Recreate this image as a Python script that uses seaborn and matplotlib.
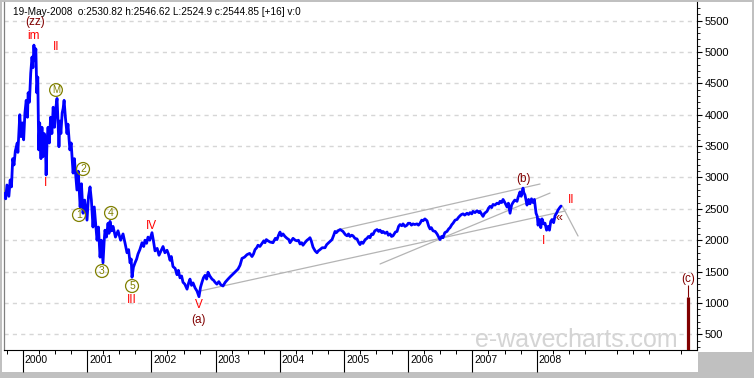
import matplotlib
matplotlib.use("Agg")
import matplotlib.pyplot as plt
import matplotlib.transforms as mtransforms
from matplotlib.patches import Rectangle
from matplotlib.ticker import MultipleLocator, FixedLocator
import numpy as np
import pandas as pd
import seaborn as sns

# ---------------- data (decimal year, index level) ----------------
dates = [
    1999.70, 1999.73, 1999.75, 1999.78, 1999.80, 1999.82, 1999.84, 1999.86, 1999.88, 1999.91,
    1999.92, 1999.94, 1999.95, 1999.97, 1999.99, 2000.01, 2000.03, 2000.05, 2000.07, 2000.08,
    2000.10, 2000.12, 2000.14, 2000.155, 2000.17, 2000.185, 2000.20, 2000.215, 2000.23, 2000.245,
    2000.26, 2000.28, 2000.295, 2000.31, 2000.33, 2000.35, 2000.36, 2000.375, 2000.39, 2000.41,
    2000.43, 2000.45, 2000.47, 2000.49, 2000.51, 2000.53, 2000.545, 2000.56, 2000.575, 2000.59,
    2000.61, 2000.625, 2000.64, 2000.66, 2000.685, 2000.70, 2000.73, 2000.75, 2000.78, 2000.80,
    2000.84, 2000.86, 2000.89, 2000.91, 2000.935, 2000.96, 2000.997, 2001.02, 2001.044, 2001.065,
    2001.09, 2001.11, 2001.153, 2001.175, 2001.20, 2001.22, 2001.246, 2001.265, 2001.277, 2001.30,
    2001.324, 2001.34, 2001.355, 2001.38, 2001.402, 2001.44, 2001.48, 2001.52, 2001.558, 2001.59,
    2001.62, 2001.645, 2001.667, 2001.685, 2001.698, 2001.72, 2001.745, 2001.77, 2001.791, 2001.82,
    2001.854, 2001.88, 2001.90, 2001.925, 2001.947, 2001.975, 2002.009, 2002.03, 2002.056, 2002.09,
    2002.118, 2002.15, 2002.181, 2002.21, 2002.243, 2002.265, 2002.29, 2002.31, 2002.336, 2002.37,
    2002.399, 2002.42, 2002.445, 2002.47, 2002.492, 2002.52, 2002.555, 2002.58, 2002.601, 2002.625,
    2002.648, 2002.68, 2002.71, 2002.741, 2002.765, 2002.788, 2002.81, 2002.835, 2002.86, 2002.882,
    2002.91, 2002.944, 2002.97, 2002.991, 2003.02, 2003.05, 2003.08, 2003.115, 2003.15, 2003.193,
    2003.23, 2003.271, 2003.31, 2003.349, 2003.38, 2003.411, 2003.45, 2003.489, 2003.53, 2003.567,
    2003.59, 2003.614, 2003.64, 2003.66, 2003.69, 2003.723, 2003.75, 2003.769, 2003.79, 2003.816,
    2003.85, 2003.894, 2003.93, 2003.956, 2003.98, 2004.003, 2004.025, 2004.05, 2004.08, 2004.112,
    2004.14, 2004.159, 2004.18, 2004.206, 2004.24, 2004.268, 2004.29, 2004.315, 2004.34, 2004.361,
    2004.39, 2004.424, 2004.45, 2004.47, 2004.49, 2004.517, 2004.55, 2004.579, 2004.60, 2004.626,
    2004.66, 2004.704, 2004.73, 2004.751, 2004.78, 2004.813, 2004.84, 2004.86, 2004.88, 2004.907,
    2004.94, 2004.984, 2005.02, 2005.047, 2005.07, 2005.093, 2005.12, 2005.14, 2005.17, 2005.202,
    2005.23, 2005.249, 2005.27, 2005.296, 2005.33, 2005.358, 2005.38, 2005.405, 2005.43, 2005.452,
    2005.48, 2005.514, 2005.54, 2005.561, 2005.59, 2005.607, 2005.64, 2005.67, 2005.69, 2005.717,
    2005.74, 2005.763, 2005.80, 2005.826, 2005.85, 2005.872, 2005.90, 2005.919, 2005.95, 2005.981,
    2006.00, 2006.028, 2006.05, 2006.075, 2006.10, 2006.137, 2006.16, 2006.184, 2006.21, 2006.231,
    2006.26, 2006.293, 2006.32, 2006.34, 2006.36, 2006.386, 2006.42, 2006.449, 2006.47, 2006.495,
    2006.52, 2006.542, 2006.57, 2006.604, 2006.63, 2006.651, 2006.68, 2006.698, 2006.73, 2006.76,
    2006.78, 2006.807, 2006.83, 2006.854, 2006.88, 2006.916, 2006.94, 2006.963, 2006.99, 2007.009,
    2007.04, 2007.072, 2007.10, 2007.118, 2007.14, 2007.165, 2007.19, 2007.227, 2007.25, 2007.274,
    2007.30, 2007.321, 2007.35, 2007.383, 2007.41, 2007.43, 2007.455, 2007.477, 2007.50, 2007.52,
    2007.539, 2007.56, 2007.586, 2007.61, 2007.632, 2007.66, 2007.695, 2007.71, 2007.741, 2007.76,
    2007.788, 2007.80, 2007.819, 2007.835, 2007.85, 2007.875, 2007.897, 2007.92, 2007.944, 2007.965,
    2007.991, 2008.01, 2008.022, 2008.045, 2008.065, 2008.084, 2008.11, 2008.131, 2008.155, 2008.178,
    2008.20, 2008.22, 2008.24, 2008.265, 2008.287, 2008.31, 2008.333, 2008.36, 2008.38,
]
prices = [
    2750, 2660, 2880, 2700, 2960, 2850, 3300, 3200, 3420, 3550,
    3400, 3800, 4000, 3650, 3870, 3600, 4030, 4230, 3960, 4350,
    4200, 4660, 4920, 4750, 5110, 4870, 5050, 4350, 4600, 3440,
    3870, 3300, 3800, 3330, 3700, 3480, 3040, 3600, 3800, 3550,
    3960, 3700, 4120, 3800, 4100, 4260, 3900, 3490, 3900, 3700,
    4030, 4100, 4230, 3960, 3700, 3850, 3440, 3550, 3070, 3300,
    2800, 3100, 2530, 2900, 2430, 2640, 2320, 2700, 2850, 2640,
    2210, 2530, 2000, 2210, 1730, 2000, 1640, 2000, 2160, 2050,
    2270, 2110, 2300, 2150, 2220, 2050, 2150, 2000, 2100, 1950,
    1800, 1850, 1640, 1700, 1410, 1570, 1640, 1700, 1780, 1850,
    1960, 1900, 2000, 1950, 2050, 2000, 2120, 2000, 1830, 1870,
    1760, 1830, 1900, 1800, 1840, 1780, 1680, 1740, 1580, 1550,
    1450, 1520, 1400, 1430, 1330, 1300, 1220, 1320, 1380, 1280,
    1320, 1240, 1190, 1100, 1250, 1330, 1400, 1440, 1380, 1490,
    1430, 1380, 1360, 1330, 1300, 1340, 1290, 1270, 1330, 1380,
    1420, 1460, 1500, 1540, 1600, 1710, 1730, 1770, 1790, 1740,
    1780, 1850, 1880, 1920, 1900, 1950, 1990, 1960, 2010, 1990,
    1970, 1960, 2030, 2010, 2080, 2130, 2070, 2100, 2060, 2030,
    2010, 1960, 1990, 2030, 2000, 1990, 2000, 1940, 1960, 1920,
    1960, 2000, 2020, 2040, 1990, 1890, 1830, 1800, 1830, 1850,
    1880, 1880, 1930, 1950, 1980, 2010, 2080, 2140, 2120, 2150,
    2170, 2140, 2090, 2070, 2100, 2060, 2080, 2070, 2030, 2020,
    1960, 1930, 1970, 1950, 2010, 2030, 2060, 2040, 2100, 2090,
    2150, 2170, 2140, 2160, 2120, 2140, 2110, 2130, 2080, 2100,
    2060, 2070, 2130, 2140, 2220, 2250, 2230, 2260, 2220, 2240,
    2270, 2270, 2240, 2260, 2250, 2260, 2240, 2270, 2320, 2310,
    2340, 2310, 2220, 2180, 2200, 2150, 2140, 2100, 2060, 2010,
    2060, 2040, 2120, 2140, 2180, 2200, 2250, 2270, 2320, 2330,
    2360, 2390, 2410, 2420, 2400, 2430, 2410, 2440, 2420, 2460,
    2440, 2470, 2440, 2460, 2420, 2380, 2430, 2460, 2510, 2540,
    2520, 2570, 2560, 2590, 2580, 2620, 2600, 2650, 2610, 2570,
    2530, 2590, 2430, 2560, 2600, 2640, 2620, 2680, 2770, 2700,
    2830, 2760, 2720, 2640, 2560, 2650, 2580, 2660, 2600, 2650,
    2430, 2380, 2240, 2330, 2200, 2340, 2260, 2270, 2160, 2220,
    2160, 2300, 2330, 2280, 2390, 2430, 2480, 2520, 2545,
]

year_ticks = [2000, 2001, 2002, 2003, 2004, 2005, 2006, 2007, 2008]
year_labels = ["2000", "2001", "2002", "2003", "2004", "2005", "2006", "2007", "2008"]
price_ticks = [500, 1000, 1500, 2000, 2500, 3000, 3500, 4000, 4500, 5000, 5500]
price_labels = ["500", "1000", "1500", "2000", "2500", "3000", "3500", "4000", "4500", "5000", "5500"]

header = "19-May-2008  o:2530.82 h:2546.62 L:2524.9 c:2544.85 [+16] v:0"
watermark = "e-wavecharts.com"

# wave labels: text, date, level, colour
wave_text = ["(zz)", "im", "II", "I", "III", "IV", "V", "(a)", "(b)", "I", "II", "\u00ab", "(c)"]
wave_date = [2000.19, 2000.156, 2000.514, 2000.358, 2001.698, 2001.994, 2002.741, 2002.741,
             2007.788, 2008.10, 2008.536, 2008.349, 2010.36]
wave_level = [5478, 5255, 5080, 2912, 1047, 2226, 967, 728, 2976, 1987, 2641, 2354, 1382]
wave_color = ["#800000", "#ff0000", "#ff0000", "#ff0000", "#ff0000", "#ff0000", "#ff0000",
              "#800000", "#800000", "#ff0000", "#ff0000", "#800000", "#800000"]

# circled minor-degree labels
circ_text = ["M", "1", "2", "3", "4", "5"]
circ_date = [2000.514, 2000.872, 2000.935, 2001.23, 2001.371, 2001.698]
circ_level = [4394, 2402, 3135, 1509, 2434, 1270]

# channel / projection lines: (date0, level0, date1, level1)
line_d0 = [2002.757, 2004.891, 2005.561, 2008.40]
line_v0 = [1190, 2163, 1621, 2545]
line_d1 = [2008.442, 2008.053, 2008.209, 2008.645]
line_v1 = [2465, 2896, 2752, 2067]

# (c) projection bar
c_date = 2010.36
c_bar_top = 1095
c_stem_top = 1286

# ---------------- figure ----------------
sns.set_style("white")
plt.rcParams["font.family"] = ["Liberation Sans", "DejaVu Sans"]

W, H = 754, 378
fig = plt.figure(figsize=(W / 100, H / 100), dpi=100, facecolor="#c0c0c0")

def fx(px):
    return px / W

def fy(py):
    return 1 - py / H

# white panels (drawn behind the axes)
fig.patches.append(Rectangle((fx(2), fy(352)), fx(750), 350 / H, transform=fig.transFigure,
                             facecolor="white", edgecolor="none", zorder=-5))
fig.patches.append(Rectangle((fx(2), fy(372)), fx(696), 22 / H, transform=fig.transFigure,
                             facecolor="white", edgecolor="none", zorder=-5))

ax = fig.add_axes([fx(4), fy(350), fx(693), 348 / H])
ax.set_zorder(2)
ax.set_facecolor("white")

df = pd.DataFrame({"date": dates, "price": prices})
sns.lineplot(data=df, x="date", y="price", ax=ax, color="#0000ff", linewidth=2.0,
             estimator=None, sort=False, legend=False, zorder=3)

ax.set_xlim(1999.704, 2010.498)
ax.set_ylim(250, 5797)
ax.set_xlabel("")
ax.set_ylabel("")

# grid
for lv in price_ticks:
    ax.axhline(lv, color="#d6d6d6", linestyle=(0, (3, 3)), linewidth=1.0, zorder=1)

# channel lines
for a, b, c, d in zip(line_d0, line_v0, line_d1, line_v1):
    ax.plot([a, c], [b, d], color="#b4b4b4", linewidth=0.9, zorder=2)

# (c) bar
ax.vlines(c_date, 250, c_bar_top, color="#800000", linewidth=2.3, zorder=4)
ax.vlines(c_date, c_bar_top, c_stem_top, color="#800000", linewidth=0.8, zorder=4)

# labels
for t, d, v, col in zip(wave_text, wave_date, wave_level, wave_color):
    ax.text(d, v, t, color=col, fontsize=9 if t == "\u00ab" else 8.5, ha="center", va="center", zorder=5)
for t, d, v in zip(circ_text, circ_date, circ_level):
    ax.text(d, v, t, color="#808000", fontsize=7.5 if t != "M" else 7, ha="center", va="center", zorder=5,
            bbox=dict(boxstyle="circle,pad=0.14", facecolor="none", edgecolor="#808000", linewidth=0.9))

ax.text((13 - 4) / 693, (350 - 7) / 348, header, transform=ax.transAxes,
        fontsize=7.2, ha="left", va="top", color="black", zorder=6)
ax.text((576 - 4) / 693, (350 - 340) / 348, watermark, transform=ax.transAxes,
        fontsize=18, ha="center", va="center", color="#d4d4d4", zorder=0.5)

# spines
ax.spines["top"].set_visible(False)
ax.spines["left"].set_color("#808080")
ax.spines["left"].set_linewidth(0.9)
ax.spines["right"].set_color("black")
ax.spines["right"].set_linewidth(0.8)
ax.spines["bottom"].set_color("black")
ax.spines["bottom"].set_linewidth(0.8)

# y axis on the right
ax.yaxis.tick_right()
ax.set_yticks(price_ticks)
ax.set_yticklabels(price_labels)
ax.yaxis.set_minor_locator(MultipleLocator(100))
ax.tick_params(axis="y", which="major", direction="out", length=3.8, width=0.8,
               pad=1.5, labelsize=8, colors="black", right=True, left=False)
ax.tick_params(axis="y", which="minor", direction="out", length=2.2, width=0.7,
               right=True, left=False)

# x axis
ax.set_xticks(year_ticks)
ax.set_xticklabels([""] * len(year_ticks))
quarters = [y + q for y in range(1999, 2011) for q in (0.25, 0.5, 0.75)]
ax.xaxis.set_minor_locator(FixedLocator(quarters))
ax.tick_params(axis="x", which="major", direction="out", length=15.5, width=0.8, colors="black",
               bottom=True)
ax.tick_params(axis="x", which="minor", direction="out", length=3, width=0.7, colors="black",
               bottom=True)
trans = mtransforms.blended_transform_factory(ax.transData, ax.transAxes)
for yv, lab in zip(year_ticks, year_labels):
    ax.text(yv + 0.03, -0.015, lab, transform=trans, fontsize=7.5, ha="left", va="top",
            color="black", clip_on=False)

fig.savefig("out.png", dpi=100, facecolor=fig.get_facecolor())
